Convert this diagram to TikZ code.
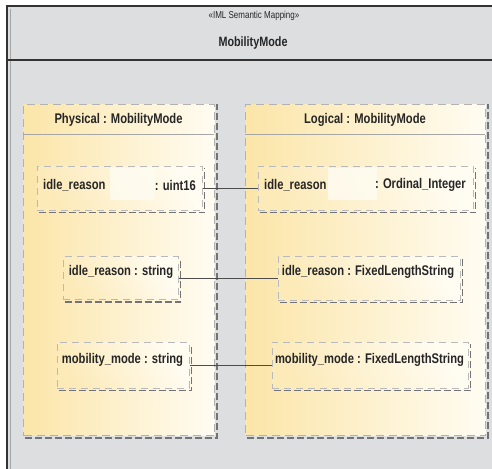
\documentclass[tikz,border=0pt]{standalone}
\usepackage{fontspec}
\setmainfont{Liberation Sans}[FakeStretch=0.8]
\begin{document}
\begin{tikzpicture}[x=1pt,y=-1pt,
  every node/.style={text=black!85, font=\fontsize{14}{16}\selectfont\bfseries},
  umlline/.style={draw=black!80, line width=1.4pt},
  cont/.style={shape=rectangle, inner sep=0pt, anchor=north west,
     left color=umlY, right color=umlW, draw=gray!60, line width=1pt,
     dash pattern=on 8pt off 5pt},
  attr/.style={shape=rectangle, inner sep=0pt,
     top color=umlW, bottom color=umlY!80, shading angle=-60,
     draw=gray!55, line width=1pt, dash pattern=on 7pt off 5pt},
  shadowline/.style={draw=black!55, line width=1.5pt, dash pattern=on 7pt off 3pt},
  conn/.style={draw=black!70, line width=1pt},
  lbl/.style={inner sep=0pt}]
\definecolor{umlY}{RGB}{251,229,168}
\definecolor{umlW}{RGB}{255,252,242}
\definecolor{umlG}{RGB}{221,222,224}
\useasboundingbox (0,0) rectangle (492,468);
\fill[white] (0,0) rectangle (492,468);
% outer frame
\fill[umlG] (7,6) rectangle (500,476);
\draw[umlline] (7,6) rectangle (500,476);
\draw[gray!70, line width=0.8pt] (10.5,9) -- (10.5,476);
\draw[umlline] (7,60) -- (500,60);
\node[lbl, font=\fontsize{10}{12}\selectfont] (stereo) at (254,16) {«IML Semantic Mapping»};
\node[lbl, font=\fontsize{13.5}{15}\selectfont\bfseries] (title) at (253,43) {MobilityMode};
% containers
\node[cont, minimum width=191pt, minimum height=331pt] (phys) at (23,104) {};
\node[cont, minimum width=240pt, minimum height=331pt] (logi) at (245,104) {};
\foreach \n in {phys,logi}{
  \draw[shadowline] ([shift={(2,2)}]\n.south west) -- ([shift={(2,2)}]\n.south east) -- ([shift={(2,0)}]\n.north east);
}
\draw[gray!70, line width=0.8pt] (23,134) -- (214,134);
\draw[gray!70, line width=0.8pt] (245,134) -- (485,134);
\node[lbl] (physt) at (118.5,120) {Physical : MobilityMode};
\node[lbl] (logit) at (365,120) {Logical : MobilityMode};
% attributes
\node[attr, minimum width=165pt, minimum height=44pt] (a1) at (119.5,188) {};
\node[attr, minimum width=215pt, minimum height=44pt] (b1) at (365.5,188) {};
\node[attr, minimum width=115pt, minimum height=43pt] (a2) at (120.5,278) {};
\node[attr, minimum width=182pt, minimum height=44pt] (b2) at (369,278) {};
\node[attr, minimum width=132pt, minimum height=46pt] (a3) at (123,365) {};
\node[attr, minimum width=196pt, minimum height=46pt] (b3) at (370,365) {};
\foreach \n in {a1,b1,a2,b2,a3,b3}{
  \draw[shadowline] ([shift={(2,2)}]\n.south west) -- ([shift={(2,2)}]\n.south east) -- ([shift={(2,2)}]\n.north east);
}
% erased patches
\fill[umlW, opacity=0.8] (110,168) rectangle (155,200);
\fill[umlW, opacity=0.8] (328,168) rectangle (377,200);
% labels
\node[lbl, anchor=west] (a1l) at (43,185) {idle\_reason};
\node[lbl, anchor=east] (a1r) at (196,185) {: uint16};
\node[lbl, anchor=west] (b1l) at (264,185) {idle\_reason};
\node[lbl, anchor=east] (b1r) at (466,185) {: Ordinal\_Integer};
\node[lbl] (a2t) at (121,272) {idle\_reason : string};
\node[lbl] (b2t) at (368,272) {idle\_reason : FixedLengthString};
\node[lbl] (a3t) at (122.5,360) {mobility\_mode : string};
\node[lbl] (b3t) at (369.5,360) {mobility\_mode : FixedLengthString};
% connectors
\draw[conn] (a1.east) -- (b1.west);
\draw[conn] (a2.east) -- (b2.west);
\draw[conn] (a3.east) -- (b3.west);
\end{tikzpicture}
\end{document}
